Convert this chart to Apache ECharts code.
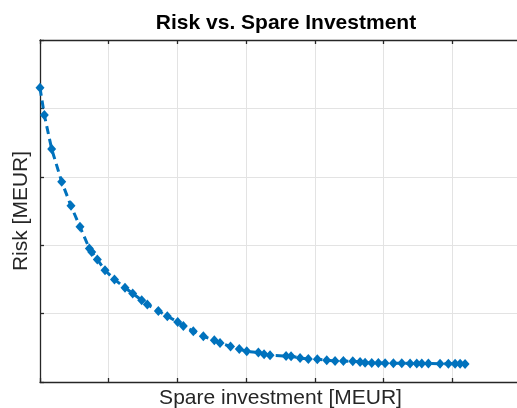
<!DOCTYPE html>
<html>
<head>
<meta charset="utf-8">
<title>Risk vs. Spare Investment</title>
<script src="https://cdn.jsdelivr.net/npm/echarts@6/dist/echarts.min.js"></script>
<style>
  html, body { margin: 0; padding: 0; background: #ffffff; }
  #chart { width: 517px; height: 408px; }
</style>
</head>
<body>
<div id="chart"></div>
<script>
// Spare investment (MEUR) for each evaluated portfolio
const spareInvestment = [
  0.00, 0.063, 0.170, 0.316, 0.451, 0.582, 0.718, 0.753, 0.834, 0.946,
  1.084, 1.237, 1.349, 1.480, 1.562, 1.722, 1.853, 2.004, 2.086, 2.231,
  2.377, 2.537, 2.620, 2.773, 2.900, 3.009, 3.178, 3.261, 3.348, 3.581,
  3.654, 3.785, 3.905, 4.036, 4.173, 4.294, 4.415, 4.552, 4.658, 4.731,
  4.828, 4.924, 5.022, 5.143, 5.265, 5.386, 5.483, 5.556, 5.652, 5.822,
  5.943, 6.041, 6.114, 6.186
];

// Resulting risk (MEUR) for each portfolio
const risk = [
  4.302, 3.903, 3.405, 2.927, 2.575, 2.268, 1.952, 1.902, 1.791, 1.634,
  1.500, 1.378, 1.294, 1.196, 1.133, 1.039, 0.961, 0.878, 0.819, 0.742,
  0.669, 0.610, 0.571, 0.519, 0.481, 0.449, 0.430, 0.405, 0.391, 0.380,
  0.376, 0.351, 0.337, 0.332, 0.318, 0.307, 0.307, 0.303, 0.293, 0.281,
  0.278, 0.277, 0.274, 0.274, 0.273, 0.272, 0.271, 0.270, 0.269, 0.268,
  0.267, 0.266, 0.265, 0.263
];

const axisRange = { xMin: 0, xMax: 7, yMin: 0, yMax: 5 };

const points = spareInvestment.map((x, i) => [x, risk[i]]);

const FONT = '"Liberation Sans", Arial, Helvetica, sans-serif';
const AXIS_COLOR = '#262626';
const GRID_COLOR = '#e3e3e3';
const LINE_BLUE = '#0072BD';

const axisCommon = {
  type: 'value',
  interval: 1,
  axisLine: { show: true, onZero: false, lineStyle: { color: AXIS_COLOR, width: 1.3 } },
  axisTick: { show: true, inside: true, length: 4, lineStyle: { color: AXIS_COLOR, width: 1.3 } },
  axisLabel: { show: false }
};

const chart = echarts.init(document.getElementById('chart'), null, { renderer: 'canvas' });

chart.setOption({
  backgroundColor: '#ffffff',
  animation: false,
  title: {
    text: 'Risk vs. Spare Investment',
    left: 281,
    textAlign: 'center',
    top: 8,
    textStyle: { fontFamily: FONT, fontSize: 21, fontWeight: 'bold', color: '#000000' }
  },
  // the plot box runs a little past the right edge of the canvas
  grid: {
    left: 40, top: 40, width: 481, height: 342,
    containLabel: false,
    outerBoundsMode: 'none'
  },
  xAxis: [
    Object.assign({}, axisCommon, {
      position: 'bottom',
      min: axisRange.xMin, max: axisRange.xMax,
      name: 'Spare investment [MEUR]',
      nameLocation: 'middle',
      nameGap: 6,
      nameTextStyle: { fontFamily: FONT, fontSize: 21, color: '#262626', verticalAlign: 'top' },
      splitLine: { show: true, lineStyle: { color: GRID_COLOR, width: 1 } }
    }),
    Object.assign({}, axisCommon, {
      position: 'top',
      min: axisRange.xMin, max: axisRange.xMax,
      splitLine: { show: false }
    })
  ],
  yAxis: [
    Object.assign({}, axisCommon, {
      position: 'left',
      min: axisRange.yMin, max: axisRange.yMax,
      name: 'Risk [MEUR]',
      nameLocation: 'middle',
      nameGap: 8,
      nameTextStyle: { fontFamily: FONT, fontSize: 21, color: '#262626' },
      splitLine: { show: true, lineStyle: { color: GRID_COLOR, width: 1 } }
    })
  ],
  series: [{
    type: 'line',
    data: points,
    xAxisIndex: 0,
    yAxisIndex: 0,
    symbol: 'diamond',
    symbolSize: [9, 10],
    showSymbol: true,
    clip: false,
    itemStyle: { color: LINE_BLUE },
    lineStyle: { color: LINE_BLUE, width: 3, type: [8, 5] }
  }]
});
</script>
</body>
</html>
